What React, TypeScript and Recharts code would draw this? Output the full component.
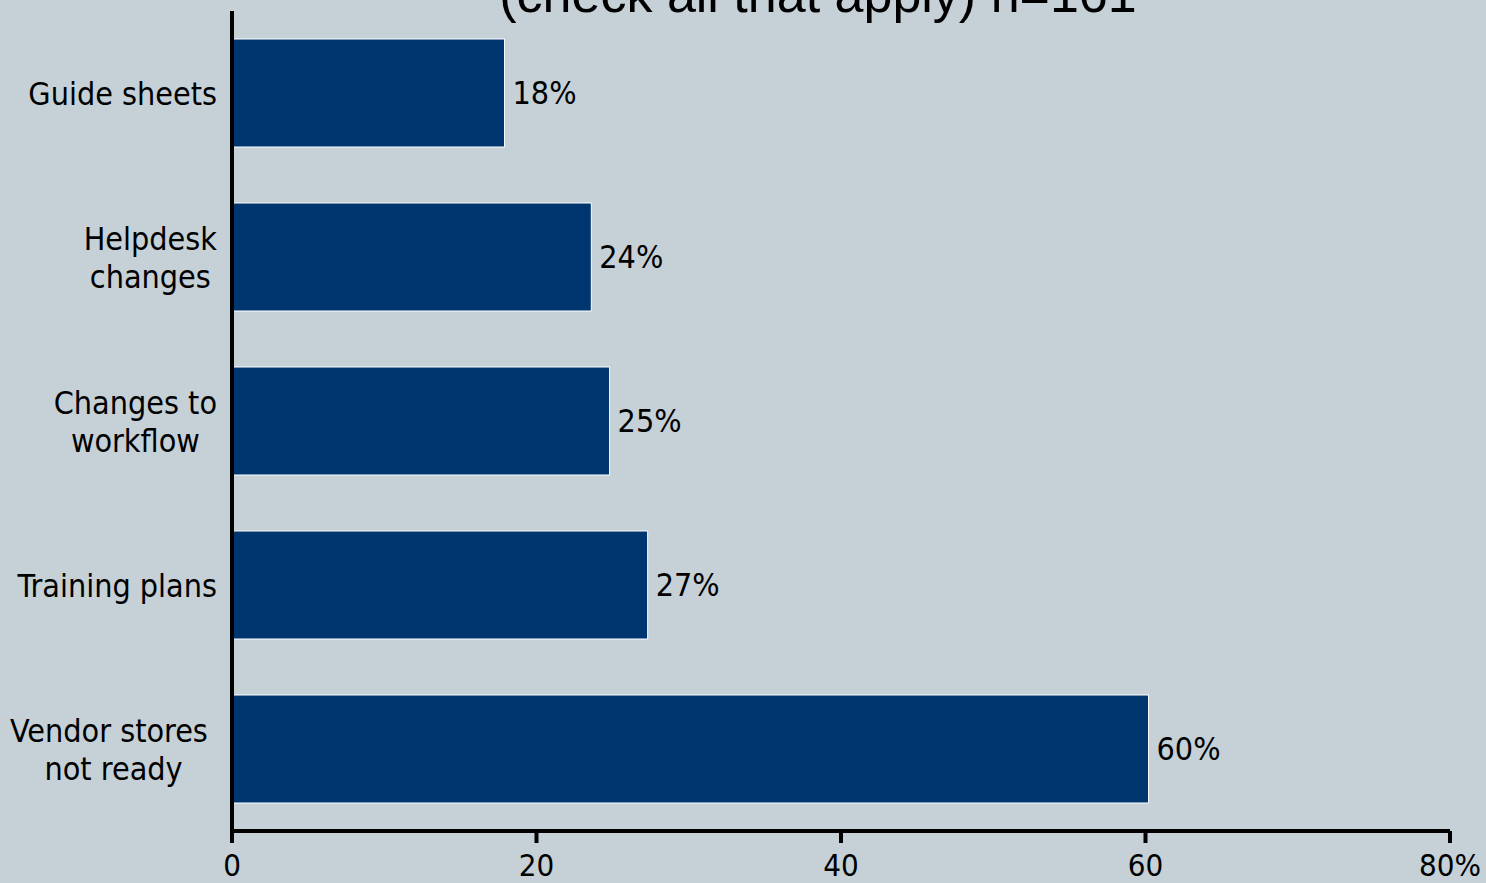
import React from 'react';
import { BarChart, Bar, XAxis, YAxis, LabelList } from 'recharts';

const categories = ['Guide sheets', 'Helpdesk\nchanges', 'Changes to\nworkflow', 'Training plans', 'Vendor stores \nnot ready'];
const values = [17.9, 23.6, 24.8, 27.3, 60.2];
const valueLabels = ['18%', '24%', '25%', '27%', '60%'];
const xTicks = [0, 20, 40, 60, 80];
const xTickLabels = ['0', '20', '40', '60', '80%'];
const titleText = '(check all that apply) n=161';

const data = categories.map((name, i) => ({ name, value: values[i], label: valueLabels[i] }));

const FONT = "'DejaVu Sans Condensed', 'DejaVu Sans', sans-serif";
const FS = 32;

let ctx: CanvasRenderingContext2D | null = null;
function measure(t: string): number {
  if (!ctx) {
    const c = document.createElement('canvas');
    ctx = c.getContext('2d');
  }
  if (!ctx) return t.length * FS * 0.55;
  ctx.font = `${FS}px ${FONT}`;
  return ctx.measureText(t).width;
}

function YTick(props: any) {
  const { x, y, payload } = props;
  const lines = String(payload.value).split('\n');
  const fullW = lines.map(measure);
  const maxW = Math.max(...fullW);
  const cx = x - maxW / 2;
  return (
    <g>
      {lines.map((l, i) => {
        const trimmed = l.trimEnd();
        const shift = (fullW[i] - measure(trimmed)) / 2;
        return (
          <text
            key={i}
            x={cx - shift}
            y={y + 12 + (i - (lines.length - 1) / 2) * 38}
            textAnchor="middle"
            fontFamily={FONT}
            fontSize={FS}
            fill="#000"
          >
            {trimmed}
          </text>
        );
      })}
    </g>
  );
}

export default function App() {
  return (
    <div style={{ position: 'absolute', left: 0, top: 0, width: 1486, height: 883, background: '#C5D0D7', overflow: 'hidden' }}>
      <BarChart
        width={1486}
        height={883}
        data={data}
        layout="vertical"
        margin={{ top: 11, right: 36, bottom: 0, left: 0 }}
        barCategoryGap={28}
      >
        <XAxis
          type="number"
          domain={[0, 80]}
          ticks={xTicks}
          tickFormatter={(v: number) => xTickLabels[xTicks.indexOf(v)]}
          height={52}
          axisLine={{ stroke: '#000', strokeWidth: 4 }}
          tickLine={{ stroke: '#000', strokeWidth: 4 }}
          tickSize={12}
          tickMargin={11}
          tick={{ fill: '#000', fontSize: 31, fontFamily: FONT }}
          interval={0}
        />
        <YAxis
          type="category"
          dataKey="name"
          width={232}
          axisLine={{ stroke: '#000', strokeWidth: 4 }}
          tickLine={false}
          tickSize={0}
          tickMargin={15}
          tick={<YTick />}
          interval={0}
        />
        <Bar dataKey="value" fill="#003670" stroke="#ffffff" strokeWidth={1} barSize={108} isAnimationActive={false}>
          <LabelList dataKey="label" position="right" offset={8} fill="#000" fontSize={FS} fontFamily={FONT} />
        </Bar>
      </BarChart>
      <svg width={1486} height={883} style={{ position: 'absolute', left: 0, top: 0, pointerEvents: 'none' }}>
        <text x={818} y={12} textAnchor="middle" fontFamily="'Liberation Sans', Arial, sans-serif" fontSize={52} fill="#000">
          {titleText}
        </text>
      </svg>
    </div>
  );
}
